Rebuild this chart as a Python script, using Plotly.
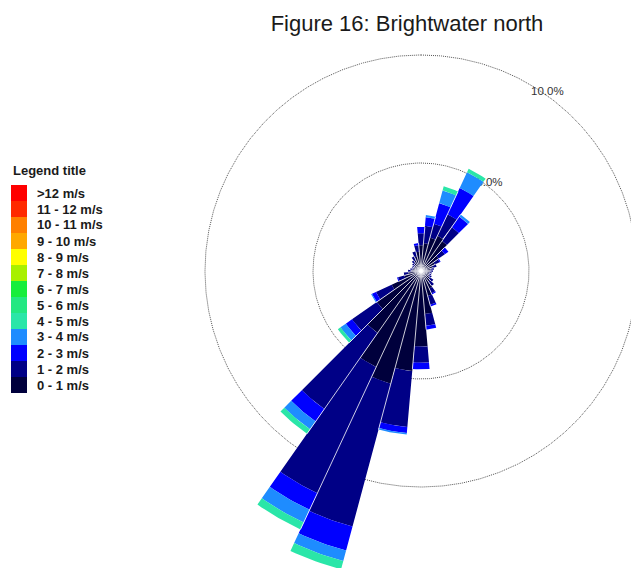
import math
import plotly.graph_objects as go

# ---- wind rose data: frequency (%) per 10-degree direction sector ----
directions = [0, 10, 20, 30, 40, 50, 60, 70, 80, 90, 100, 110,
              120, 130, 140, 150, 160, 170, 180, 190, 200, 210, 220, 230,
              240, 250, 260, 270, 280, 290, 300, 310, 320, 330, 340, 350]

speed_classes = ["0 - 1 m/s", "1 - 2 m/s", "2 - 3 m/s", "3 - 4 m/s", "4 - 5 m/s",
                 "5 - 6 m/s", "6 - 7 m/s", "7 - 8 m/s", "8 - 9 m/s", "9 - 10 m/s",
                 "10 - 11 m/s", "11 - 12 m/s", ">12 m/s"]

class_colors = ["#00003c", "#000086", "#0000ff", "#1e8cff", "#2ae6a8",
                "#22e882", "#16ee3c", "#a8f000", "#ffff00", "#ffa800",
                "#ff8000", "#ff2a00", "#ff0000"]

freq_0_1 = [1.2, 1.3, 1.6, 1.8, 1.7, 1.0, 0.7, 0.55, 0.45, 0.42, 0.4, 0.4,
            0.42, 0.5, 0.6, 0.9, 1.2, 2.0, 3.5, 4.65, 5.4, 4.9, 3.5, 2.5,
            1.5, 0.8, 0.6, 0.45, 0.4, 0.35, 0.35, 0.38, 0.45, 0.55, 0.7, 0.9]
freq_1_2 = [0.55, 0.8, 0.67, 1.1, 0.78, 0.35, 0.25, 0.2, 0.15, 0.13, 0.1, 0.1,
            0.13, 0.2, 0.25, 0.25, 0.42, 0.55, 0.75, 2.6, 6.85, 6.45, 4.3, 1.4,
            0.8, 0.3, 0.2, 0.15, 0.1, 0.1, 0.1, 0.12, 0.15, 0.2, 0.25, 0.3]
freq_2_3 = [0.3, 0.4, 0.98, 1.34, 0.6, 0.2, 0.05, 0, 0, 0, 0, 0,
            0, 0, 0, 0.05, 0.08, 0.17, 0.3, 0.28, 1.15, 0.85, 0.7, 0.35,
            0.2, 0.05, 0, 0, 0, 0, 0, 0, 0, 0, 0, 0.1]
freq_3_4 = [0, 0.1, 0.61, 0.8, 0.12, 0, 0, 0, 0, 0, 0, 0,
            0, 0, 0, 0, 0, 0, 0, 0.07, 0.5, 0.65, 0.45, 0.3,
            0.05, 0, 0, 0, 0, 0, 0, 0, 0, 0, 0, 0]
freq_4_5 = [0, 0, 0.2, 0.18, 0, 0, 0, 0, 0, 0, 0, 0,
            0, 0, 0, 0, 0, 0, 0, 0, 0.4, 0.35, 0.25, 0.15,
            0, 0, 0, 0, 0, 0, 0, 0, 0, 0, 0, 0]

class_freqs = [freq_0_1, freq_1_2, freq_2_3, freq_3_4, freq_4_5]

ring_values = [5.0, 10.0]
ring_labels = ["5.0%", "10.0%"]

title_text = "Figure 16: Brightwater north"
legend_heading = "Legend title"

# ---- figure geometry (pixels) ----
W, H = 631, 568
CX, CY = 421, 271          # rose centre on the page
PX_PER_PCT = 21.6          # pixels per 1 % of frequency
SECTOR = 10                # sector width in degrees
LABEL_ANGLES = [38, 35.2]  # compass bearing of each ring label

FONT = "Liberation Sans, Arial, sans-serif"


def polar_xy(r, bearing):
    """Compass bearing (clockwise from north) -> east/north data coordinates."""
    a = math.radians(bearing)
    return r * math.sin(a), r * math.cos(a)


def annular_sector(r0, r1, centre, width, steps=10):
    a0 = centre - width / 2
    angs = [a0 + width * k / steps for k in range(steps + 1)]
    pts = [polar_xy(r1, a) for a in angs] + [polar_xy(r0, a) for a in reversed(angs)]
    pts.append(pts[0])
    return [p[0] for p in pts], [p[1] for p in pts]


fig = go.Figure()

# dotted frequency rings
for ring in ring_values:
    pts = [polar_xy(ring, b / 2) for b in range(0, 721)]
    fig.add_trace(go.Scatter(
        x=[p[0] for p in pts], y=[p[1] for p in pts], mode="lines",
        line=dict(color="#555555", width=1, dash="1px,1px"),
        hoverinfo="skip", showlegend=False))

# ring labels (beneath the bars)
lab_pts = [polar_xy(ring + 0.15, ang) for ring, ang in zip(ring_values, LABEL_ANGLES)]
fig.add_trace(go.Scatter(
    x=[p[0] for p in lab_pts], y=[p[1] for p in lab_pts], mode="text",
    text=ring_labels, textposition="middle center",
    textfont=dict(family=FONT, size=11.5, color="#333333"),
    hoverinfo="skip", showlegend=False))

# stacked speed-class bars, one filled trace per class
base = [0.0] * len(directions)
for freqs, name, color in zip(class_freqs, speed_classes, class_colors):
    xs, ys = [], []
    for i, d in enumerate(directions):
        if freqs[i] > 0:
            sx, sy = annular_sector(base[i], base[i] + freqs[i], d, SECTOR)
            xs += sx + [None]
            ys += sy + [None]
        base[i] += freqs[i]
    fig.add_trace(go.Scatter(
        x=xs, y=ys, mode="lines", fill="toself", fillcolor=color,
        line=dict(width=0, color=color), name=name,
        hoverinfo="skip", showlegend=False))

# thin white separators between neighbouring sectors
totals = base
sx, sy = [], []
for i, d in enumerate(directions):
    j = (i + 1) % len(directions)
    reach = min(totals[i], totals[j])
    ex, ey = polar_xy(reach, d + SECTOR / 2)
    sx += [0, ex, None]
    sy += [0, ey, None]
fig.add_trace(go.Scatter(
    x=sx, y=sy, mode="lines", line=dict(color="white", width=0.8),
    hoverinfo="skip", showlegend=False))

# ---- legend drawn as a colour column ----
shapes, annotations = [], []
BOX_X0, BOX_X1 = 11, 27
BOX_BOTTOM, BOX_H = 393, 16
for i, (label, color) in enumerate(zip(speed_classes, class_colors)):
    y_bot = BOX_BOTTOM - BOX_H * i
    shapes.append(dict(type="rect", xref="paper", yref="paper",
                       x0=BOX_X0 / W, x1=BOX_X1 / W,
                       y0=(H - y_bot) / H, y1=(H - y_bot + BOX_H) / H,
                       fillcolor=color, line=dict(width=0), layer="above"))
    annotations.append(dict(xref="paper", yref="paper", x=35 / W,
                            y=(H - (y_bot - BOX_H / 2)) / H,
                            xanchor="left", yanchor="middle", showarrow=False,
                            text="<b>%s</b>" % label,
                            font=dict(family=FONT, size=13, color="#1a1a1a")))
annotations.append(dict(xref="paper", yref="paper", x=11 / W, y=(H - 170) / H,
                        xanchor="left", yanchor="middle", showarrow=False,
                        text="<b>%s</b>" % legend_heading,
                        font=dict(family=FONT, size=13, color="#1a1a1a")))

fig.update_layout(
    width=W, height=H,
    margin=dict(l=0, r=0, t=0, b=0),
    paper_bgcolor="white", plot_bgcolor="white",
    title=dict(text=title_text, x=407 / W, xanchor="center",
               y=1 - 23 / H, yanchor="middle",
               font=dict(family=FONT, size=22, color="#1a1a1a")),
    xaxis=dict(range=[-CX / PX_PER_PCT, (W - CX) / PX_PER_PCT], visible=False,
               fixedrange=True, domain=[0, 1]),
    yaxis=dict(range=[-(H - CY) / PX_PER_PCT, CY / PX_PER_PCT], visible=False,
               fixedrange=True, domain=[0, 1]),
    shapes=shapes,
    annotations=annotations,
    showlegend=False,
)

fig.write_html("out.html")
